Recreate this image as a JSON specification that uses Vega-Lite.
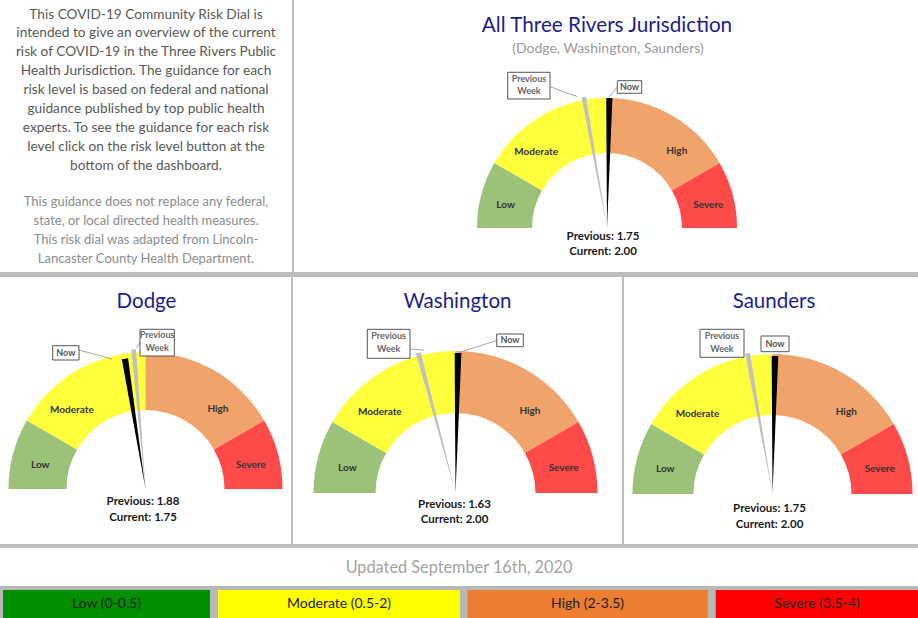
{
"$schema":"https://vega.github.io/schema/vega-lite/v6.json",
"width":918,"height":618,"padding":0,"autosize":{"type":"none"},
"background":"white",
"config":{"view":{"stroke":null},"font":"Lato"},
"data":{"values":[{}]},
"datasets":{
 "levels":[
  {"level":"Low","low":0,"high":0.5,"range":"0-0.5"},
  {"level":"Moderate","low":0.5,"high":2,"range":"0.5-2"},
  {"level":"High","low":2,"high":3.5,"range":"2-3.5"},
  {"level":"Severe","low":3.5,"high":4,"range":"3.5-4"}],
 "gauges":[
  {"gauge":"All Three Rivers Jurisdiction","previous":1.75,"current":2.00},
  {"gauge":"Dodge","previous":1.88,"current":1.75},
  {"gauge":"Washington","previous":1.63,"current":2.00},
  {"gauge":"Saunders","previous":1.75,"current":2.00}]
},
"resolve":{"scale":{"theta":"independent"}},
"layer":[
 {"mark":{"type":"rect","color":"#bdbdbd"},"encoding":{"x":{"datum":0,"type":"quantitative","scale":{"domain":[0,918],"nice":false,"zero":false},"axis":null},"x2":{"datum":918},"y":{"datum":272,"type":"quantitative","scale":{"domain":[0,618],"nice":false,"zero":false,"reverse":true},"axis":null},"y2":{"datum":277}}},
 {"mark":{"type":"rect","color":"#bdbdbd"},"encoding":{"x":{"datum":292,"type":"quantitative"},"x2":{"datum":294},"y":{"datum":0,"type":"quantitative"},"y2":{"datum":272}}},
 {"mark":{"type":"rect","color":"#bdbdbd"},"encoding":{"x":{"datum":291,"type":"quantitative"},"x2":{"datum":293},"y":{"datum":277,"type":"quantitative"},"y2":{"datum":544}}},
 {"mark":{"type":"rect","color":"#bdbdbd"},"encoding":{"x":{"datum":622,"type":"quantitative"},"x2":{"datum":624},"y":{"datum":277,"type":"quantitative"},"y2":{"datum":544}}},
 {"mark":{"type":"rect","color":"#bdbdbd"},"encoding":{"x":{"datum":0,"type":"quantitative"},"x2":{"datum":918},"y":{"datum":544,"type":"quantitative"},"y2":{"datum":548}}},
 {"mark":{"type":"rect","color":"#b8b8b8"},"encoding":{"x":{"datum":0,"type":"quantitative"},"x2":{"datum":918},"y":{"datum":586,"type":"quantitative"},"y2":{"datum":618}}},
 {"mark":{"type":"rect","color":"#008f00"},"encoding":{"x":{"datum":3,"type":"quantitative"},"x2":{"datum":210},"y":{"datum":590,"type":"quantitative"},"y2":{"datum":618}}},
 {"mark":{"type":"rect","color":"#ffff00"},"encoding":{"x":{"datum":218,"type":"quantitative"},"x2":{"datum":460},"y":{"datum":590,"type":"quantitative"},"y2":{"datum":618}}},
 {"mark":{"type":"rect","color":"#ed7d31"},"encoding":{"x":{"datum":467.5,"type":"quantitative"},"x2":{"datum":707.7},"y":{"datum":590,"type":"quantitative"},"y2":{"datum":618}}},
 {"mark":{"type":"rect","color":"#ff0000"},"encoding":{"x":{"datum":715.7,"type":"quantitative"},"x2":{"datum":918},"y":{"datum":590,"type":"quantitative"},"y2":{"datum":618}}},
 {"mark":{"type":"text","text":"Low (0-0.5)","font":"Lato","fontSize":14,"color":"#1e1e1e","align":"center","baseline":"middle"},"encoding":{"x":{"datum":106.5,"type":"quantitative"},"y":{"datum":604,"type":"quantitative"}}},
 {"mark":{"type":"text","text":"Moderate (0.5-2)","font":"Lato","fontSize":14,"color":"#1e1e1e","align":"center","baseline":"middle"},"encoding":{"x":{"datum":339,"type":"quantitative"},"y":{"datum":604,"type":"quantitative"}}},
 {"mark":{"type":"text","text":"High (2-3.5)","font":"Lato","fontSize":14,"color":"#1e1e1e","align":"center","baseline":"middle"},"encoding":{"x":{"datum":587.6,"type":"quantitative"},"y":{"datum":604,"type":"quantitative"}}},
 {"mark":{"type":"text","text":"Severe (3.5-4)","font":"Lato","fontSize":14,"color":"#1e1e1e","align":"center","baseline":"middle"},"encoding":{"x":{"datum":817,"type":"quantitative"},"y":{"datum":604,"type":"quantitative"}}},
 {"mark":{"type":"text","text":"Updated September 16th, 2020","font":"Lato","fontSize":16.3,"color":"#a3a3a3","align":"center","baseline":"middle"},"encoding":{"x":{"datum":459,"type":"quantitative"},"y":{"datum":568,"type":"quantitative"}}},
 {"mark":{"type":"text","text":["This COVID-19 Community Risk Dial is","intended to give an overview of the current","risk of COVID-19 in the Three Rivers Public","Health Jurisdiction. The guidance for each","risk level is based on federal and national","guidance published by top public health","experts. To see the guidance for each risk","level click on the risk level button at the","bottom of the dashboard."],"font":"Lato","fontSize":13.7,"lineHeight":18.9,"color":"#595959","align":"center","baseline":"top"},"encoding":{"x":{"datum":146,"type":"quantitative"},"y":{"datum":7.5,"type":"quantitative"}}},
 {"mark":{"type":"text","text":["This guidance does not replace any federal,","state, or local directed health measures.","This risk dial was adapted from Lincoln-","Lancaster County Health Department."],"font":"Lato","fontSize":13,"lineHeight":18.9,"color":"#8c8c8c","align":"center","baseline":"top"},"encoding":{"x":{"datum":146,"type":"quantitative"},"y":{"datum":196,"type":"quantitative"}}},
 {"data":{"name":"gauges"},"transform":[{"filter":{"field":"gauge","equal":"All Three Rivers Jurisdiction"}}],"mark":{"type":"text","font":"Lato","fontSize":20.7,"color":"#1c1c94","align":"center","baseline":"middle"},"encoding":{"text":{"field":"gauge","type":"nominal"},"x":{"datum":607,"type":"quantitative"},"y":{"datum":26,"type":"quantitative"}}},
 {"mark":{"type":"text","text":"(Dodge, Washington, Saunders)","font":"Lato","fontSize":14,"color":"#9a9a9a","align":"center","baseline":"middle"},"encoding":{"x":{"datum":608,"type":"quantitative"},"y":{"datum":49,"type":"quantitative"}}},
 {"data":{"name":"gauges"},"transform":[{"filter":{"field":"gauge","equal":"Dodge"}}],"mark":{"type":"text","font":"Lato","fontSize":20.5,"color":"#1c1c94","align":"center","baseline":"middle"},"encoding":{"text":{"field":"gauge","type":"nominal"},"x":{"datum":146.5,"type":"quantitative"},"y":{"datum":302,"type":"quantitative"}}},
 {"data":{"name":"gauges"},"transform":[{"filter":{"field":"gauge","equal":"Washington"}}],"mark":{"type":"text","font":"Lato","fontSize":20.5,"color":"#1c1c94","align":"center","baseline":"middle"},"encoding":{"text":{"field":"gauge","type":"nominal"},"x":{"datum":457.5,"type":"quantitative"},"y":{"datum":302,"type":"quantitative"}}},
 {"data":{"name":"gauges"},"transform":[{"filter":{"field":"gauge","equal":"Saunders"}}],"mark":{"type":"text","font":"Lato","fontSize":20.5,"color":"#1c1c94","align":"center","baseline":"middle"},"encoding":{"text":{"field":"gauge","type":"nominal"},"x":{"datum":774,"type":"quantitative"},"y":{"datum":302,"type":"quantitative"}}},

 {"resolve":{"scale":{"theta":"independent"}},"encoding":{"x":{"datum":607,"type":"quantitative"},"y":{"datum":228,"type":"quantitative"}},"layer":[
  {"data":{"name":"levels"},"mark":{"type":"arc","innerRadius":75,"outerRadius":130},"encoding":{"theta":{"field":"low","type":"quantitative","stack":null,"scale":{"domain":[0,0.5,2,3.5,4],"range":[-1.5708,-1.0472,0,1.0472,1.5708],"nice":false,"zero":false}},"theta2":{"field":"high"},"color":{"field":"level","type":"nominal","legend":null,"scale":{"domain":["Low","Moderate","High","Severe"],"range":["#9cc27a","#ffff3c","#f0a46c","#ff4a4a"]}}}},
  {"data":{"name":"levels"},"mark":{"type":"text","radius":104,"fontWeight":"bold","fontSize":10,"color":"#333333","align":"center","baseline":"middle"},"encoding":{"theta":{"field":"high","type":"quantitative","stack":null,"scale":{"domain":[0.5,2,3.5,4],"range":[-1.344,-0.75,0.735,1.344],"nice":false,"zero":false}},"text":{"field":"level","type":"nominal"}}},
  {"data":{"name":"gauges"},"transform":[{"filter":{"field":"gauge","equal":"All Three Rivers Jurisdiction"}}],"mark":{"type":"arc","innerRadius":0,"outerRadius":133,"thetaOffset":-0.018,"theta2Offset":0.016,"color":"#c0c0c0"},"encoding":{"theta":{"field":"previous","type":"quantitative","stack":null,"scale":{"domain":[0,0.5,2,3.5,4],"range":[-1.5708,-1.0472,0,1.0472,1.5708],"nice":false,"zero":false}},"theta2":{"field":"previous"}}},
  {"data":{"name":"gauges"},"transform":[{"filter":{"field":"gauge","equal":"All Three Rivers Jurisdiction"}}],"mark":{"type":"arc","innerRadius":0,"outerRadius":130,"thetaOffset":-0.006,"theta2Offset":0.042,"color":"#000000"},"encoding":{"theta":{"field":"current","type":"quantitative","stack":null,"scale":{"domain":[0,0.5,2,3.5,4],"range":[-1.5708,-1.0472,0,1.0472,1.5708],"nice":false,"zero":false}},"theta2":{"field":"current"}}},
  {"data":{"name":"gauges"},"transform":[{"filter":{"field":"gauge","equal":"All Three Rivers Jurisdiction"}},{"calculate":"['Previous: ' + format(datum.previous, '.2f'), 'Current: ' + format(datum.current, '.2f')]","as":"label"}],"mark":{"type":"text","baseline":"top","align":"center","yOffset":3,"xOffset":-4,"lineHeight":15,"fontWeight":"bold","fontSize":11.5,"color":"#1a1a1a"},"encoding":{"text":{"field":"label","type":"nominal"}}}
 ]},

 {"resolve":{"scale":{"theta":"independent"}},"encoding":{"x":{"datum":145.5,"type":"quantitative"},"y":{"datum":489,"type":"quantitative"}},"layer":[
  {"data":{"name":"levels"},"mark":{"type":"arc","innerRadius":79,"outerRadius":137},"encoding":{"theta":{"field":"low","type":"quantitative","stack":null,"scale":{"domain":[0,0.5,2,3.5,4],"range":[-1.5708,-1.0472,0,1.0472,1.5708],"nice":false,"zero":false}},"theta2":{"field":"high"},"color":{"field":"level","type":"nominal","legend":null}}},
  {"data":{"name":"levels"},"mark":{"type":"text","radius":108,"fontWeight":"bold","fontSize":10,"color":"#333333","align":"center","baseline":"middle"},"encoding":{"theta":{"field":"high","type":"quantitative","stack":null,"scale":{"domain":[0.5,2,3.5,4],"range":[-1.344,-0.75,0.735,1.344],"nice":false,"zero":false}},"text":{"field":"level","type":"nominal"}}},
  {"data":{"name":"gauges"},"transform":[{"filter":{"field":"gauge","equal":"Dodge"}}],"mark":{"type":"arc","innerRadius":0,"outerRadius":140,"thetaOffset":-0.018,"theta2Offset":0.016,"color":"#c0c0c0"},"encoding":{"theta":{"field":"previous","type":"quantitative","stack":null,"scale":{"domain":[0,0.5,2,3.5,4],"range":[-1.5708,-1.0472,0,1.0472,1.5708],"nice":false,"zero":false}},"theta2":{"field":"previous"}}},
  {"data":{"name":"gauges"},"transform":[{"filter":{"field":"gauge","equal":"Dodge"}}],"mark":{"type":"arc","innerRadius":0,"outerRadius":132,"thetaOffset":-0.006,"theta2Offset":0.042,"color":"#000000"},"encoding":{"theta":{"field":"current","type":"quantitative","stack":null,"scale":{"domain":[0,0.5,2,3.5,4],"range":[-1.5708,-1.0472,0,1.0472,1.5708],"nice":false,"zero":false}},"theta2":{"field":"current"}}},
  {"data":{"name":"gauges"},"transform":[{"filter":{"field":"gauge","equal":"Dodge"}},{"calculate":"['Previous: ' + format(datum.previous, '.2f'), 'Current: ' + format(datum.current, '.2f')]","as":"label"}],"mark":{"type":"text","baseline":"top","align":"center","yOffset":7,"xOffset":-2.5,"lineHeight":16,"fontWeight":"bold","fontSize":11.5,"color":"#1a1a1a"},"encoding":{"text":{"field":"label","type":"nominal"}}}
 ]},

 {"resolve":{"scale":{"theta":"independent"}},"encoding":{"x":{"datum":455.5,"type":"quantitative"},"y":{"datum":493,"type":"quantitative"}},"layer":[
  {"data":{"name":"levels"},"mark":{"type":"arc","innerRadius":80,"outerRadius":142},"encoding":{"theta":{"field":"low","type":"quantitative","stack":null,"scale":{"domain":[0,0.5,2,3.5,4],"range":[-1.5708,-1.0472,0,1.0472,1.5708],"nice":false,"zero":false}},"theta2":{"field":"high"},"color":{"field":"level","type":"nominal","legend":null}}},
  {"data":{"name":"levels"},"mark":{"type":"text","radius":111,"fontWeight":"bold","fontSize":10,"color":"#333333","align":"center","baseline":"middle"},"encoding":{"theta":{"field":"high","type":"quantitative","stack":null,"scale":{"domain":[0.5,2,3.5,4],"range":[-1.344,-0.75,0.735,1.344],"nice":false,"zero":false}},"text":{"field":"level","type":"nominal"}}},
  {"data":{"name":"gauges"},"transform":[{"filter":{"field":"gauge","equal":"Washington"}}],"mark":{"type":"arc","innerRadius":0,"outerRadius":145,"thetaOffset":-0.018,"theta2Offset":0.016,"color":"#c0c0c0"},"encoding":{"theta":{"field":"previous","type":"quantitative","stack":null,"scale":{"domain":[0,0.5,2,3.5,4],"range":[-1.5708,-1.0472,0,1.0472,1.5708],"nice":false,"zero":false}},"theta2":{"field":"previous"}}},
  {"data":{"name":"gauges"},"transform":[{"filter":{"field":"gauge","equal":"Washington"}}],"mark":{"type":"arc","innerRadius":0,"outerRadius":140,"thetaOffset":-0.006,"theta2Offset":0.042,"color":"#000000"},"encoding":{"theta":{"field":"current","type":"quantitative","stack":null,"scale":{"domain":[0,0.5,2,3.5,4],"range":[-1.5708,-1.0472,0,1.0472,1.5708],"nice":false,"zero":false}},"theta2":{"field":"current"}}},
  {"data":{"name":"gauges"},"transform":[{"filter":{"field":"gauge","equal":"Washington"}},{"calculate":"['Previous: ' + format(datum.previous, '.2f'), 'Current: ' + format(datum.current, '.2f')]","as":"label"}],"mark":{"type":"text","baseline":"top","align":"center","yOffset":6.3,"xOffset":-1,"lineHeight":15,"fontWeight":"bold","fontSize":11.5,"color":"#1a1a1a"},"encoding":{"text":{"field":"label","type":"nominal"}}}
 ]},

 {"resolve":{"scale":{"theta":"independent"}},"encoding":{"x":{"datum":772.5,"type":"quantitative"},"y":{"datum":494,"type":"quantitative"}},"layer":[
  {"data":{"name":"levels"},"mark":{"type":"arc","innerRadius":79,"outerRadius":140},"encoding":{"theta":{"field":"low","type":"quantitative","stack":null,"scale":{"domain":[0,0.5,2,3.5,4],"range":[-1.5708,-1.0472,0,1.0472,1.5708],"nice":false,"zero":false}},"theta2":{"field":"high"},"color":{"field":"level","type":"nominal","legend":null}}},
  {"data":{"name":"levels"},"mark":{"type":"text","radius":110,"fontWeight":"bold","fontSize":10,"color":"#333333","align":"center","baseline":"middle"},"encoding":{"theta":{"field":"high","type":"quantitative","stack":null,"scale":{"domain":[0.5,2,3.5,4],"range":[-1.344,-0.75,0.735,1.344],"nice":false,"zero":false}},"text":{"field":"level","type":"nominal"}}},
  {"data":{"name":"gauges"},"transform":[{"filter":{"field":"gauge","equal":"Saunders"}}],"mark":{"type":"arc","innerRadius":0,"outerRadius":143,"thetaOffset":-0.018,"theta2Offset":0.016,"color":"#c0c0c0"},"encoding":{"theta":{"field":"previous","type":"quantitative","stack":null,"scale":{"domain":[0,0.5,2,3.5,4],"range":[-1.5708,-1.0472,0,1.0472,1.5708],"nice":false,"zero":false}},"theta2":{"field":"previous"}}},
  {"data":{"name":"gauges"},"transform":[{"filter":{"field":"gauge","equal":"Saunders"}}],"mark":{"type":"arc","innerRadius":0,"outerRadius":138,"thetaOffset":-0.006,"theta2Offset":0.042,"color":"#000000"},"encoding":{"theta":{"field":"current","type":"quantitative","stack":null,"scale":{"domain":[0,0.5,2,3.5,4],"range":[-1.5708,-1.0472,0,1.0472,1.5708],"nice":false,"zero":false}},"theta2":{"field":"current"}}},
  {"data":{"name":"gauges"},"transform":[{"filter":{"field":"gauge","equal":"Saunders"}},{"calculate":"['Previous: ' + format(datum.previous, '.2f'), 'Current: ' + format(datum.current, '.2f')]","as":"label"}],"mark":{"type":"text","baseline":"top","align":"center","yOffset":9.3,"xOffset":-3,"lineHeight":15.3,"fontWeight":"bold","fontSize":11.5,"color":"#1a1a1a"},"encoding":{"text":{"field":"label","type":"nominal"}}}
 ]},

 {"mark":{"type":"rule","color":"#a6a6a6","strokeWidth":1},"encoding":{"x":{"datum":550,"type":"quantitative"},"y":{"datum":86.7,"type":"quantitative"},"x2":{"datum":577},"y2":{"datum":96.5}}},
 {"mark":{"type":"rule","color":"#a6a6a6","strokeWidth":1},"encoding":{"x":{"datum":617.3,"type":"quantitative"},"y":{"datum":87,"type":"quantitative"},"x2":{"datum":609},"y2":{"datum":97}}},
 {"mark":{"type":"rule","color":"#a6a6a6","strokeWidth":1},"encoding":{"x":{"datum":79,"type":"quantitative"},"y":{"datum":350,"type":"quantitative"},"x2":{"datum":112},"y2":{"datum":359}}},
 {"mark":{"type":"rule","color":"#a6a6a6","strokeWidth":1},"encoding":{"x":{"datum":141,"type":"quantitative"},"y":{"datum":341,"type":"quantitative"},"x2":{"datum":136.5},"y2":{"datum":348}}},
 {"mark":{"type":"rule","color":"#a6a6a6","strokeWidth":1},"encoding":{"x":{"datum":410,"type":"quantitative"},"y":{"datum":349,"type":"quantitative"},"x2":{"datum":424},"y2":{"datum":350}}},
 {"mark":{"type":"rule","color":"#a6a6a6","strokeWidth":1},"encoding":{"x":{"datum":496.7,"type":"quantitative"},"y":{"datum":340.5,"type":"quantitative"},"x2":{"datum":459},"y2":{"datum":352.5}}},

 {"mark":{"type":"rect","fill":"white","stroke":"#555555","strokeWidth":1},"encoding":{"x":{"datum":507.7,"type":"quantitative"},"x2":{"datum":550},"y":{"datum":72.3,"type":"quantitative"},"y2":{"datum":99}}},
 {"mark":{"type":"rect","fill":"white","stroke":"#555555","strokeWidth":1},"encoding":{"x":{"datum":617.3,"type":"quantitative"},"x2":{"datum":641.7},"y":{"datum":80.7,"type":"quantitative"},"y2":{"datum":93.3}}},
 {"mark":{"type":"rect","fill":"white","stroke":"#555555","strokeWidth":1},"encoding":{"x":{"datum":52.7,"type":"quantitative"},"x2":{"datum":79},"y":{"datum":345.7,"type":"quantitative"},"y2":{"datum":360}}},
 {"mark":{"type":"rect","fill":"white","stroke":"#555555","strokeWidth":1},"encoding":{"x":{"datum":140,"type":"quantitative"},"x2":{"datum":174.3},"y":{"datum":329.3,"type":"quantitative"},"y2":{"datum":356}}},
 {"mark":{"type":"rect","fill":"white","stroke":"#555555","strokeWidth":1},"encoding":{"x":{"datum":367.3,"type":"quantitative"},"x2":{"datum":410},"y":{"datum":329.3,"type":"quantitative"},"y2":{"datum":358.3}}},
 {"mark":{"type":"rect","fill":"white","stroke":"#555555","strokeWidth":1},"encoding":{"x":{"datum":496.7,"type":"quantitative"},"x2":{"datum":523.3},"y":{"datum":334,"type":"quantitative"},"y2":{"datum":346.7}}},
 {"mark":{"type":"rect","fill":"white","stroke":"#555555","strokeWidth":1},"encoding":{"x":{"datum":700,"type":"quantitative"},"x2":{"datum":744},"y":{"datum":329.3,"type":"quantitative"},"y2":{"datum":357.3}}},
 {"mark":{"type":"rect","fill":"white","stroke":"#555555","strokeWidth":1},"encoding":{"x":{"datum":761,"type":"quantitative"},"x2":{"datum":789},"y":{"datum":336,"type":"quantitative"},"y2":{"datum":351.7}}},

 {"mark":{"type":"text","text":["Previous","Week"],"fontSize":9,"fontWeight":"bold","lineHeight":12.4,"color":"#666666","align":"center","baseline":"top"},"encoding":{"x":{"datum":529,"type":"quantitative"},"y":{"datum":74.5,"type":"quantitative"}}},
 {"mark":{"type":"text","text":"Now","fontSize":9,"fontWeight":"bold","color":"#555555","align":"center","baseline":"middle"},"encoding":{"x":{"datum":629.5,"type":"quantitative"},"y":{"datum":87,"type":"quantitative"}}},
 {"mark":{"type":"text","text":"Now","fontSize":9,"fontWeight":"bold","color":"#555555","align":"center","baseline":"middle"},"encoding":{"x":{"datum":65.8,"type":"quantitative"},"y":{"datum":353,"type":"quantitative"}}},
 {"mark":{"type":"text","text":["Previous","Week"],"fontSize":9,"fontWeight":"bold","lineHeight":13,"color":"#666666","align":"center","baseline":"top"},"encoding":{"x":{"datum":157.2,"type":"quantitative"},"y":{"datum":331,"type":"quantitative"}}},
 {"mark":{"type":"text","text":["Previous","Week"],"fontSize":9,"fontWeight":"bold","lineHeight":13,"color":"#666666","align":"center","baseline":"top"},"encoding":{"x":{"datum":388.7,"type":"quantitative"},"y":{"datum":332,"type":"quantitative"}}},
 {"mark":{"type":"text","text":"Now","fontSize":9,"fontWeight":"bold","color":"#555555","align":"center","baseline":"middle"},"encoding":{"x":{"datum":510,"type":"quantitative"},"y":{"datum":340.3,"type":"quantitative"}}},
 {"mark":{"type":"text","text":["Previous","Week"],"fontSize":9,"fontWeight":"bold","lineHeight":13,"color":"#666666","align":"center","baseline":"top"},"encoding":{"x":{"datum":722,"type":"quantitative"},"y":{"datum":332,"type":"quantitative"}}},
 {"mark":{"type":"text","text":"Now","fontSize":9,"fontWeight":"bold","color":"#555555","align":"center","baseline":"middle"},"encoding":{"x":{"datum":775,"type":"quantitative"},"y":{"datum":343.8,"type":"quantitative"}}}
]
}
